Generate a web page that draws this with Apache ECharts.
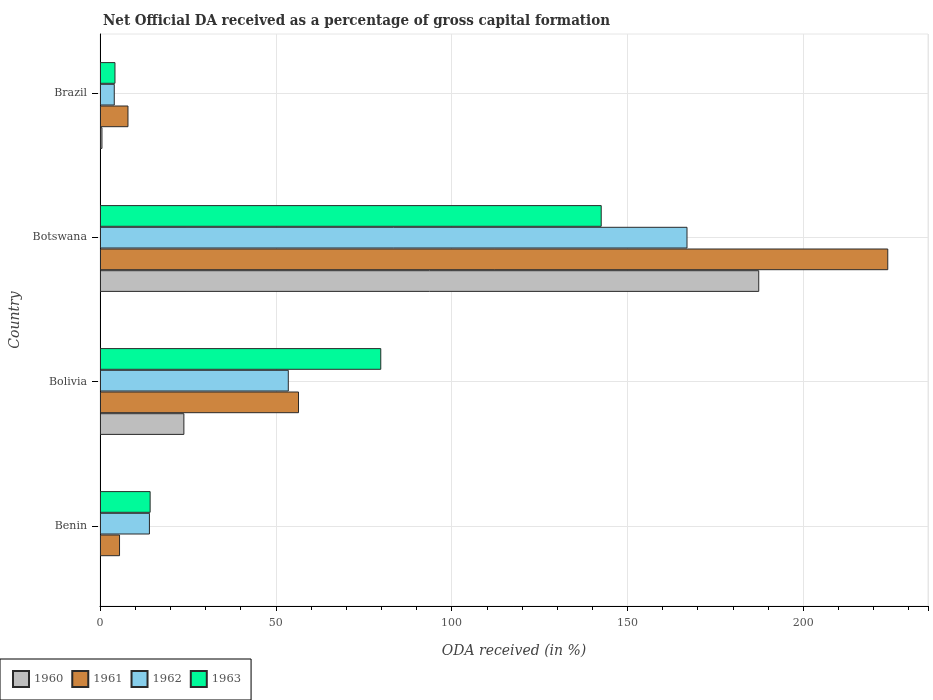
<!DOCTYPE html>
<html>
<head>
<meta charset="utf-8">
<script src="https://cdn.jsdelivr.net/npm/echarts@6/dist/echarts.min.js"></script>
<style>
  html, body { margin: 0; padding: 0; background: #fff; }
  #main { width: 933px; height: 700px; }
</style>
</head>
<body>
<div id="main"></div>
<script>
// data (Benin 1960 has no bar)
const countries = ['Benin', 'Bolivia', 'Botswana', 'Brazil'];
const years = ['1960', '1961', '1962', '1963'];
const oda1960 = [null, 24.0, 187.5, 0.7];
const oda1961 = [5.7, 56.6, 224.2, 8.1];
const oda1962 = [14.2, 53.7, 167.1, 4.2];
const oda1963 = [14.4, 80.0, 142.7, 4.4];
const xTicks = [0, 50, 100, 150, 200];

const colors = ['#bebebe', '#cd853f', '#87ceeb', '#00fa9a'];
const font = 'DejaVu Serif';

const myChart = echarts.init(document.getElementById('main'));

const values = [oda1960, oda1961, oda1962, oda1963];

// one bar series per year; echarts stacks the first series on top,
// so add them in reverse to keep 1960 at the bottom of each group
const chartSeries = years
  .map((year, i) => ({
    name: year,
    type: 'bar',
    xAxisIndex: 0,
    yAxisIndex: 0,
    data: values[i],
    barWidth: 21.7,
    barGap: '0%',
    itemStyle: { color: colors[i], borderColor: '#2a2a2a', borderWidth: 1 },
    emphasis: { disabled: true },
  }))
  .reverse();

const option = {
  animation: false,
  title: {
    text: 'Net Official DA received as a percentage of gross capital formation',
    left: 98,
    top: 9,
    textStyle: {
      fontFamily: 'DejaVu Serif Condensed',
      fontWeight: 'bold',
      fontSize: 15,
      color: '#333',
    },
  },
  legend: {
    data: years,
    left: 0,
    top: 659,
    orient: 'horizontal',
    itemWidth: 16,
    itemHeight: 16,
    itemGap: 8,
    padding: [11, 10, 12, 12],
    borderColor: '#000',
    borderWidth: 1,
    icon: 'rect',
    textStyle: { fontFamily: font, fontSize: 11.5, color: '#555' },
  },
  grid: [
    // bars, x axis and frame
    { left: 98, right: 5, top: 34, bottom: 94, show: true, borderColor: '#e6e6e6', borderWidth: 1 },
    // category ticks and horizontal grid lines (they sit a half bar higher)
    { left: 98, right: 5, top: 93, bottom: 174 },
  ],
  xAxis: [
    {
      type: 'value',
      gridIndex: 0,
      min: 0,
      max: 235.5,
      interval: 50,
      name: 'ODA received (in %)',
      nameLocation: 'middle',
      nameGap: 38,
      nameTextStyle: { fontFamily: font, fontStyle: 'italic', fontSize: 14, color: '#444' },
      axisLine: { show: true, lineStyle: { color: '#000', width: 1 } },
      axisTick: { show: true, length: 5, lineStyle: { color: '#000' } },
      minorTick: { show: true, splitNumber: 5, length: 4, lineStyle: { color: '#000' } },
      axisLabel: {
        fontFamily: font,
        fontSize: 11,
        color: '#555',
        margin: 12,
        showMaxLabel: false,
        formatter: (v) => (xTicks.includes(v) ? String(v) : ''),
      },
      splitLine: { show: true, lineStyle: { color: '#e6e6e6', width: 1 } },
    },
    { type: 'value', gridIndex: 1, min: 0, max: 235.5, show: false },
  ],
  yAxis: [
    {
      type: 'category',
      gridIndex: 0,
      data: countries,
      name: 'Country',
      nameLocation: 'middle',
      nameGap: 78,
      nameTextStyle: { fontFamily: font, fontStyle: 'italic', fontSize: 14, color: '#444' },
      axisLine: { show: true, lineStyle: { color: '#000', width: 1 } },
      axisTick: { show: false },
      axisLabel: { show: false },
      splitLine: { show: false },
    },
    {
      type: 'category',
      gridIndex: 1,
      data: countries,
      boundaryGap: false,
      axisLine: { show: false },
      axisTick: { show: true, length: 6, lineStyle: { color: '#000' } },
      axisLabel: { fontFamily: font, fontSize: 11, color: '#444', margin: 11 },
      splitLine: { show: true, lineStyle: { color: '#e6e6e6', width: 1 } },
    },
  ],
  series: chartSeries,
};

myChart.setOption(option);
</script>
</body>
</html>
